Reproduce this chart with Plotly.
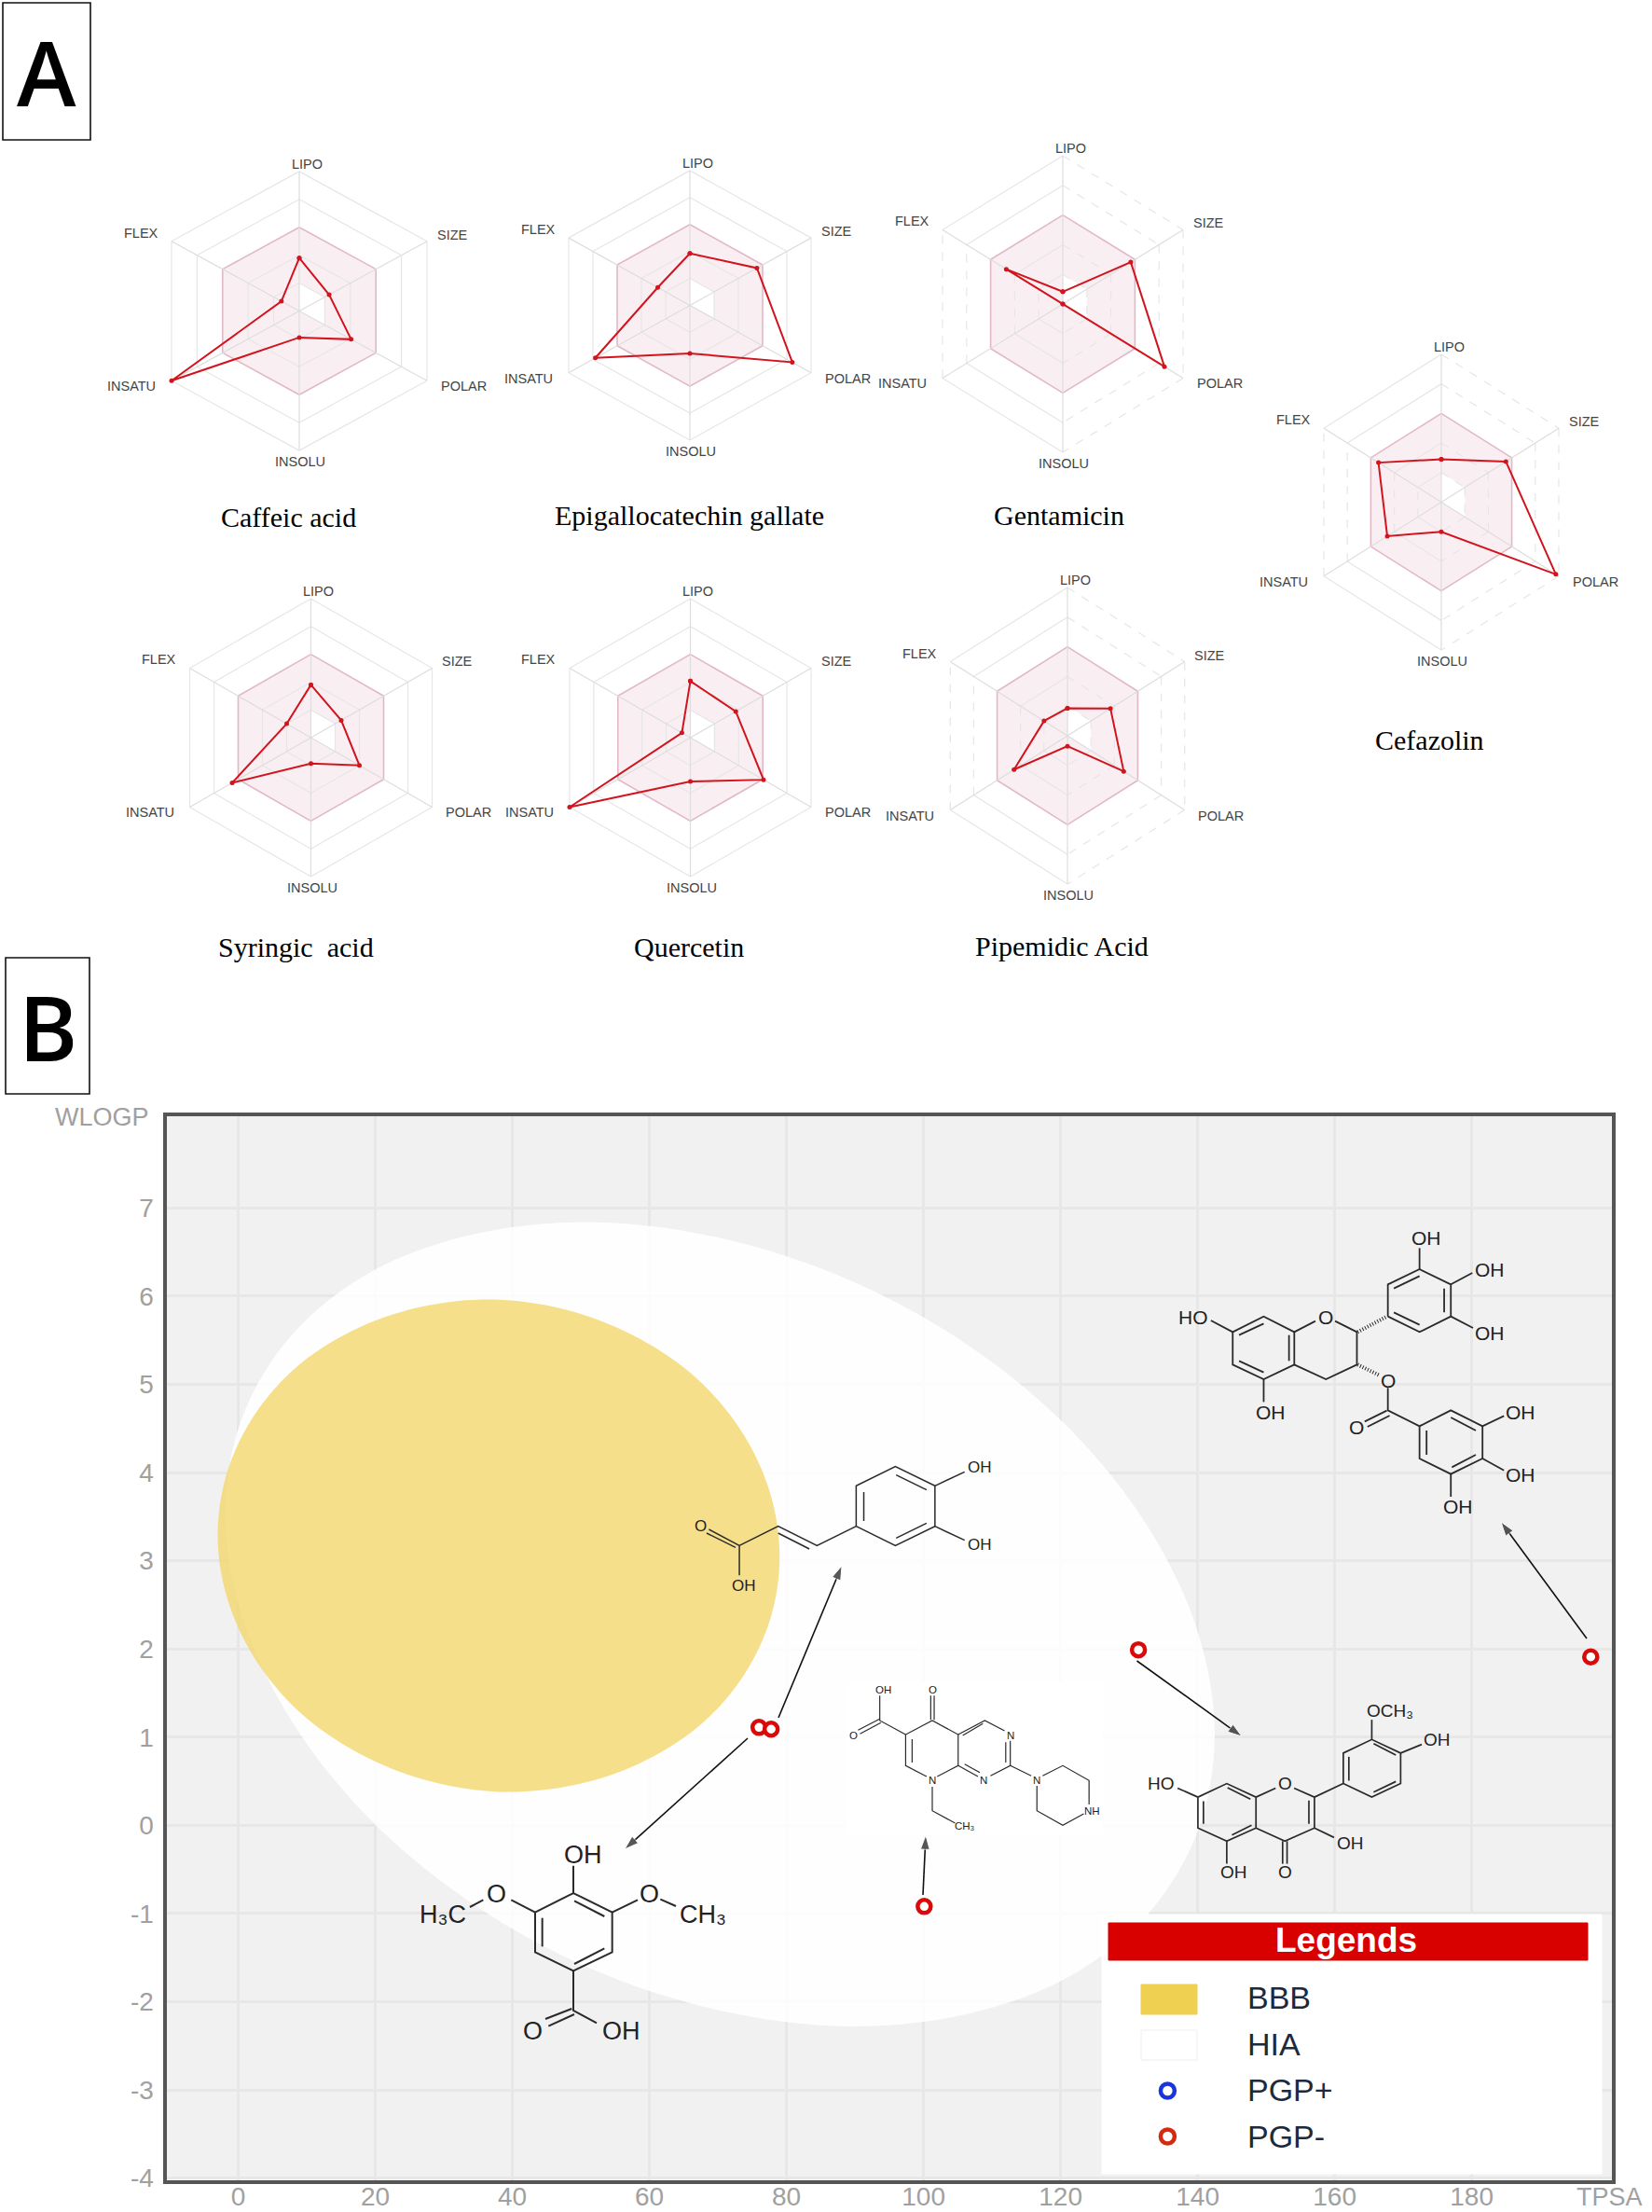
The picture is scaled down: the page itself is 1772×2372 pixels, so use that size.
import numpy as np
import plotly.graph_objects as go

W, H = 1772, 2372

# panel A: bioavailability radars
radar_axes = ["LIPO", "SIZE", "POLAR", "INSOLU", "INSATU", "FLEX"]
caffeic = [0.38, 0.234, 0.406, 0.19, 1.0, 0.14]
egcg = [0.385, 0.553, 0.845, 0.357, 0.78, 0.265]
gentamicin = [0.083, 0.565, 0.845, 0.0, 0.0, 0.47]
cefazolin = [0.29, 0.55, 0.975, 0.2, 0.46, 0.535]
syringic = [0.38, 0.25, 0.40, 0.186, 0.65, 0.2]
quercetin = [0.407, 0.376, 0.606, 0.315, 1.0, 0.07]
pipemidic = [0.186, 0.367, 0.48, 0.07, 0.456, 0.2]

# panel B: boiled egg
pgp_names = ["Syringic acid", "Caffeic acid", "Quercetin", "Epigallocatechin gallate", "Pipemidic Acid"]
pgp_tpsa = [75.99, 77.76, 131.36, 197.37, 100.1]
pgp_wlogp = [1.11, 1.09, 1.99, 1.91, -0.92]

# outlines
hia_tpsa = [142.5, 140, 132.8, 121.4, 106.4, 89, 70.3, 51.6, 34.2, 19.2, 7.8, 0.6,
            -1.9, 0.6, 7.8, 19.2, 34.2, 51.6, 70.3, 89, 106.4, 121.4, 132.8, 140, 142.5]
hia_wlogp = [1.02, 2.20, 3.38, 4.49, 5.45, 6.19, 6.66, 6.84, 6.70, 6.27, 5.56, 4.63,
             3.54, 2.36, 1.18, 0.07, -0.89, -1.63, -2.10, -2.28, -2.14, -1.71, -1.0, -0.07, 1.02]
bbb_tpsa = [79, 77.6, 73.5, 67, 58.5, 48.6, 38, 27.4, 17.5, 9, 2.5, -1.6,
            -3, -1.6, 2.5, 9, 17.5, 27.4, 38, 48.6, 58.5, 67, 73.5, 77.6, 79]
bbb_wlogp = [3.05, 3.77, 4.46, 5.06, 5.52, 5.83, 5.96, 5.89, 5.64, 5.23, 4.67, 4.01,
             3.29, 2.57, 1.88, 1.28, 0.82, 0.51, 0.38, 0.45, 0.70, 1.11, 1.67, 2.33, 3.05]
x_ticks = list(range(0, 181, 20))
y_ticks = list(range(-4, 8))
y_tick_labels = [str(v) for v in y_ticks]

panels = [
    # values, caption, cx, cy, half width, half height, caption x, caption y, dashed grid
    (caffeic, "Caffeic acid", 321, 333.5, 137, 149.6, 309, 554, False),
    (egcg, "Epigallocatechin gallate", 740, 327.4, 130, 144.5, 739, 552, False),
    (gentamicin, "Gentamicin", 1140, 326, 129, 159, 1136, 552, True),
    (cefazolin, "Cefazolin", 1546, 538.5, 126, 158.6, 1533, 793, True),
    (syringic, "Syringic  acid", 333.5, 791, 130, 149, 317, 1015, False),
    (quercetin, "Quercetin", 740.5, 791, 129.5, 149, 739, 1015, False),
    (pipemidic, "Pipemidic Acid", 1145, 789, 125.7, 159, 1139, 1014, True),
]

angles = np.radians(np.arange(6) * 60)
sx_, cy_ = np.sin(angles), np.cos(angles)
label_shift = [(8, -8), (27, -7), (39, 6), (1, 12), (-43, 6), (-33, -9)]

PAD = 1.05
fig = go.Figure()
layout = {}
annotations = []
shapes = []


def hex_xy(r):
    r = np.asarray(r)
    return r * sx_, r * cy_


OV = 9  # full page overlay axes, pixel units


def page_text(x, y, text, size, color="#222222", family="Liberation Sans", weight="normal", **kw):
    annotations.append(dict(x=x, y=y, xref=f"x{OV}", yref=f"y{OV}", text=text, showarrow=False,
                            font=dict(size=size, color=color, family=family, weight=weight),
                            xanchor=kw.get("xanchor", "center"), yanchor="middle"))


for k, (vals, caption, cx, cy, rh, rv, capx, capy, dashed) in enumerate(panels, start=2):
    layout[f"xaxis{k}"] = dict(domain=[(cx - PAD * rh) / W, (cx + PAD * rh) / W], range=[-0.866 * PAD, 0.866 * PAD],
                               visible=False, anchor=f"y{k}", automargin=False)
    layout[f"yaxis{k}"] = dict(domain=[1 - (cy + PAD * rv) / H, 1 - (cy - PAD * rv) / H], range=[-PAD, PAD],
                               visible=False, anchor=f"x{k}", automargin=False)
    ax = dict(xaxis=f"x{k}", yaxis=f"y{k}", hoverinfo="skip", showlegend=False)

    # optimal range band, with the white part of its hole
    bx, by = hex_xy([0.6] * 6)
    fig.add_trace(go.Scatter(x=list(bx) + [bx[0]], y=list(by) + [by[0]], mode="lines", fill="toself",
                             fillcolor="#f9eff3", line=dict(color="#e2b8c6", width=1.6), **ax))
    hx, hy = hex_xy([0.2] * 6)
    fig.add_trace(go.Scatter(x=[hx[0], hx[1], hx[2], 0, hx[0]], y=[hy[0], hy[1], hy[2], 0, hy[0]], mode="lines",
                             fill="toself", fillcolor="#ffffff", line=dict(width=0), **ax))

    # rings and spokes
    dash_edges = {0, 1, 2, 4} if dashed else set()
    for style, edges in (("solid", set(range(6)) - dash_edges), ("dash", dash_edges)):
        gx, gy = [], []
        for level in (0.2, 0.4, 0.8, 1.0):
            rx, ry = hex_xy([level] * 6)
            for e in edges:
                gx += [rx[e], rx[(e + 1) % 6], None]
                gy += [ry[e], ry[(e + 1) % 6], None]
        if gx:
            fig.add_trace(go.Scatter(x=gx, y=gy, mode="lines", line=dict(color="#e6e6e6", width=1.2, dash=style), **ax))
    spx, spy = [], []
    for i in range(6):
        spx += [0, sx_[i], None]
        spy += [0, cy_[i], None]
    fig.add_trace(go.Scatter(x=spx, y=spy, mode="lines", line=dict(color="#dddddd", width=1.2), **ax))

    # compound profile
    px_, py_ = hex_xy(vals)
    fig.add_trace(go.Scatter(x=list(px_) + [px_[0]], y=list(py_) + [py_[0]], mode="lines+markers", cliponaxis=False,
                             line=dict(color="#d2141e", width=2), marker=dict(color="#d2141e", size=5), **ax))

    for i, name in enumerate(radar_axes):
        annotations.append(dict(x=sx_[i], y=cy_[i], xref=f"x{k}", yref=f"y{k}", text=name, showarrow=False,
                                xshift=label_shift[i][0], yshift=-label_shift[i][1],
                                font=dict(size=14.5, color="#444444", family="Liberation Sans")))
    page_text(capx, capy, caption, 30, color="#000000", family="Liberation Serif")

# boiled egg, main axes
PLOT_L, PLOT_R, PLOT_T, PLOT_B = 178.5, 1729, 1197, 2337.5
layout["xaxis"] = dict(domain=[PLOT_L / W, PLOT_R / W], range=[-10.49, 200.46], tickvals=x_ticks,
                       gridcolor="#e7e7e7", gridwidth=3, zeroline=False, showline=True, mirror=True,
                       linecolor="#555555", linewidth=4, ticks="", ticklabelstandoff=-10, automargin=False,
                       tickfont=dict(size=28, color="#a0a0a0", family="Liberation Sans"))
layout["yaxis"] = dict(domain=[1 - PLOT_B / H, 1 - PLOT_T / H], range=[-4.02, 8.04], tickvals=y_ticks,
                       ticktext=y_tick_labels, automargin=False,
                       gridcolor="#e7e7e7", gridwidth=3, zeroline=False, showline=True, mirror=True,
                       linecolor="#555555", linewidth=4, ticks="", ticklabelstandoff=4,
                       tickfont=dict(size=28, color="#a0a0a0", family="Liberation Sans"))
shapes.append(dict(type="rect", xref="x domain", yref="y domain", x0=0, x1=1, y0=0, y1=1, layer="below",
                   fillcolor="#f1f1f1", line_width=0))

fig.add_trace(go.Scatter(x=hia_tpsa, y=hia_wlogp, mode="lines", fill="toself", fillcolor="rgba(255,255,255,0.88)",
                         line=dict(width=0, shape="spline"), name="HIA", hoverinfo="skip", showlegend=False))
fig.add_trace(go.Scatter(x=bbb_tpsa, y=bbb_wlogp, mode="lines", fill="toself", fillcolor="rgba(243,214,105,0.78)",
                         line=dict(width=0, shape="spline"), name="BBB", hoverinfo="skip", showlegend=False))
fig.add_trace(go.Scatter(x=pgp_tpsa, y=pgp_wlogp, mode="markers", name="PGP-", text=pgp_names, showlegend=False,
                         cliponaxis=False, marker=dict(size=14, color="#ffffff", line=dict(color="#d90a0a", width=4.5))))

# overlay for pasted molecule drawings and the legend
layout[f"xaxis{OV}"] = dict(domain=[0, 1], range=[0, W], visible=False, anchor=f"y{OV}", automargin=False)
layout[f"yaxis{OV}"] = dict(domain=[0, 1], range=[H, 0], visible=False, anchor=f"x{OV}", automargin=False)
page = dict(xaxis=f"x{OV}", yaxis=f"y{OV}", hoverinfo="skip", showlegend=False)


def page_rect(x0, y0, x1, y1, color, border=None):
    fig.add_trace(go.Scatter(x=[x0, x1, x1, x0, x0], y=[y0, y0, y1, y1, y0], mode="lines", fill="toself",
                             fillcolor=color, line=dict(color=border or color, width=1), **page))


page_rect(908, 1805, 1182, 1967, "#ffffff")  # white paste behind pipemidic acid


def molecule(ox, oy, sx, sy, paths, labels, lw, size, hashed=()):
    xs, ys = [], []
    for path in paths:
        for p in path:
            xs.append(ox + p[0] / sx)
            ys.append(oy + p[1] / sy)
        xs.append(None)
        ys.append(None)
    fig.add_trace(go.Scatter(x=xs, y=ys, mode="lines", line=dict(color="#2a2a2a", width=lw), **page))
    if hashed:
        hxs, hys = [], []
        for path in hashed:
            for p in path:
                hxs.append(ox + p[0] / sx)
                hys.append(oy + p[1] / sy)
            hxs.append(None)
            hys.append(None)
        fig.add_trace(go.Scatter(x=hxs, y=hys, mode="lines", line=dict(color="#2a2a2a", width=4, dash="1px,2px"), **page))
    for lx, ly, t in labels:
        page_text(ox + lx / sx, oy + ly / sy, t, size)


# epigallocatechin gallate
molecule(1180, 1180, 2.65, 3.0, [
    [(377, 745), (465, 695), (552, 745), (552, 850), (465, 897), (377, 850), (377, 745)],
    [(395, 755), (465, 718)], [(537, 755), (537, 838)], [(395, 838), (465, 875)], [(315, 708), (377, 745)],
    [(552, 745), (612, 710)], [(668, 710), (730, 745), (730, 850), (642, 897), (552, 850)], [(465, 897), (465, 970)],
    [(818, 695), (818, 592), (908, 543), (997, 592), (997, 695), (908, 745), (818, 695)],
    [(835, 605), (908, 565)], [(978, 605), (978, 682)], [(835, 682), (908, 722)],
    [(908, 543), (908, 475)], [(997, 592), (1058, 555)], [(997, 695), (1060, 732)],
    [(818, 925), (818, 997), (908, 1048)], [(815, 998), (752, 1033)], [(823, 1014), (760, 1050)],
    [(908, 1048), (997, 997), (1087, 1048), (1087, 1152), (997, 1202), (908, 1152), (908, 1048)],
    [(928, 1062), (928, 1140)], [(997, 1020), (1068, 1062)], [(1000, 1180), (1068, 1140)],
    [(1087, 1048), (1148, 1015)], [(1087, 1152), (1148, 1190)], [(997, 1202), (997, 1275)],
], [(265, 697, "HO"), (642, 697, "O"), (928, 443, "OH"), (1107, 545, "OH"), (1107, 748, "OH"), (486, 1002, "OH"),
    (818, 900, "O"), (730, 1052, "O"), (1195, 1002, "OH"), (1195, 1204, "OH"), (1017, 1306, "OH")],
    1.8, 21, hashed=[[(732, 745), (812, 697)], [(732, 850), (795, 885)]])

# caffeic acid
molecule(700, 1500, 2.45, 3.0, [
    [(535, 410), (535, 280), (638, 218), (742, 280), (742, 410), (638, 472), (535, 410)],
    [(555, 300), (555, 393)], [(640, 245), (720, 293)], [(640, 448), (720, 400)],
    [(742, 280), (820, 235)], [(742, 410), (820, 455)],
    [(535, 410), (432, 472), (330, 410), (228, 472)], [(330, 432), (412, 483)],
    [(228, 472), (148, 420)], [(218, 478), (142, 432)], [(228, 472), (228, 568)],
], [(860, 220, "OH"), (860, 468, "OH"), (125, 408, "O"), (240, 600, "OH")], 1.5, 17)

# pipemidic acid
molecule(700, 1500, 2.45, 3.0, [
    [(720, 1215), (665, 1180), (665, 1080), (735, 1035), (803, 1080), (803, 1180), (748, 1215)],
    [(682, 1095), (682, 1170)],
    [(803, 1080), (873, 1035), (925, 1068)], [(940, 1100), (940, 1180), (888, 1213)], [(855, 1215), (803, 1180)],
    [(815, 1083), (868, 1045)], [(928, 1105), (928, 1170)], [(820, 1175), (860, 1202)],
    [(731, 1033), (731, 955)], [(740, 1033), (740, 955)],
    [(665, 1080), (597, 1035), (597, 955)], [(597, 1030), (540, 1066)], [(600, 1042), (545, 1078)],
    [(735, 1248), (735, 1325), (795, 1365)],
    [(940, 1180), (995, 1213)], [(1025, 1213), (1078, 1180), (1147, 1228), (1147, 1305)],
    [(1133, 1335), (1078, 1372), (1010, 1325), (1010, 1245)],
], [(606, 936, "OH"), (735, 936, "O"), (527, 1082, "O"), (940, 1082, "N"), (870, 1228, "N"), (735, 1228, "N"),
    (1010, 1228, "N"), (1155, 1325, "NH"), (820, 1375, "CH₃")], 1.2, 11.5)

# quercetin
molecule(1150, 1680, 2.52, 2.266, [
    [(340, 560), (418, 527), (497, 560), (497, 635), (418, 667), (340, 635), (340, 560)],
    [(355, 570), (355, 625)], [(420, 537), (482, 565)], [(432, 652), (485, 628)], [(285, 538), (340, 560)],
    [(497, 560), (550, 538)], [(600, 538), (655, 560), (655, 635), (575, 667), (497, 635)], [(640, 568), (640, 625)],
    [(569, 667), (569, 722)], [(581, 667), (581, 722)], [(418, 667), (418, 722)], [(655, 635), (708, 658)],
    [(655, 560), (733, 527), (733, 453), (810, 420), (888, 453), (888, 527), (810, 560), (733, 527)],
    [(748, 520), (748, 462)], [(815, 430), (875, 458)], [(815, 548), (875, 522)],
    [(810, 420), (810, 372)], [(888, 453), (945, 432)],
], [(240, 527, "HO"), (575, 527, "O"), (860, 350, "OCH₃"), (987, 420, "OH"), (752, 672, "OH"),
    (437, 742, "OH"), (575, 742, "O")], 1.7, 19)

# syringic acid
molecule(380, 1900, 3.0, 3.0, [
    [(582, 452), (705, 390), (830, 452), (830, 580), (705, 640), (582, 580), (582, 452)],
    [(605, 470), (605, 562)], [(708, 415), (805, 465)], [(708, 618), (805, 568)],
    [(705, 390), (705, 302)], [(582, 452), (505, 412)], [(415, 412), (372, 435)],
    [(830, 452), (912, 412)], [(985, 410), (1035, 432)],
    [(705, 640), (705, 768), (780, 808)], [(700, 762), (615, 795)], [(708, 780), (625, 818)],
], [(735, 268, "OH"), (457, 393, "O"), (950, 393, "O"), (285, 458, "H₃C"), (1122, 458, "CH₃"),
    (573, 833, "O"), (858, 833, "OH")], 2, 27)

# arrows from the points to their molecules: tail x, tail y, head x, head y
for tx, ty, hx_, hy_ in [(835, 1842, 903, 1679), (802, 1864, 670, 1983), (990, 2032, 993, 1968),
                         (1219.5, 1781, 1332, 1862), (1702, 1757, 1610, 1632)]:
    fig.add_trace(go.Scatter(x=[tx, hx_], y=[ty, hy_], mode="lines+markers", line=dict(color="#111111", width=1.6),
                             marker=dict(symbol="arrow", angleref="previous", size=[0, 16], color="#111111"), **page))

# legend
page_rect(1182, 2053, 1718, 2331, "#ffffff")
page_rect(1189, 2062, 1703, 2102, "#d90000")
page_rect(1224, 2128, 1284, 2160, "#f0d050")
page_rect(1224, 2177, 1284, 2209, "#ffffff", border="#eeeeee")
fig.add_trace(go.Scatter(x=[1252.4], y=[2242], mode="markers",
                         marker=dict(size=15, color="#ffffff", line=dict(color="#1a34e0", width=4.5)), **page))
fig.add_trace(go.Scatter(x=[1252.4], y=[2291], mode="markers",
                         marker=dict(size=15, color="#ffffff", line=dict(color="#d42a10", width=4.5)), **page))
page_text(1444, 2080, "<b>Legends</b>", 37, color="#ffffff")
for ly, t in [(2142, "BBB"), (2192, "HIA"), (2241, "PGP+"), (2291, "PGP-")]:
    page_text(1336, ly, t, 34, color="#1c2a40", xanchor="left")

# axis names sit in the corners
page_text(109, 1198, "WLOGP", 27, color="#a0a0a0")
page_text(1726, 2356, "TPSA", 27, color="#a0a0a0")

# panel letters
for x0, y0, x1, y1, letter, ty in [(3, 3, 97, 150, "A", 76), (6, 1027, 96, 1173, "B", 1100)]:
    shapes.append(dict(type="rect", xref=f"x{OV}", yref=f"y{OV}", x0=x0, x1=x1, y0=y0, y1=y1,
                       line=dict(color="#111111", width=1.6)))
    page_text((x0 + x1) / 2, ty, letter, 96, color="#000000", family="Open Sans", weight=600)

fig.update_layout(width=W, height=H, margin=dict(l=0, r=0, t=0, b=0), paper_bgcolor="#ffffff",
                  plot_bgcolor="rgba(0,0,0,0)", hovermode=False, showlegend=False,
                  annotations=annotations, shapes=shapes, **layout)

fig.write_html("out.html", config=dict(displayModeBar=False),
               post_script="document.body.style.margin='0';document.body.style.overflow='hidden';")
